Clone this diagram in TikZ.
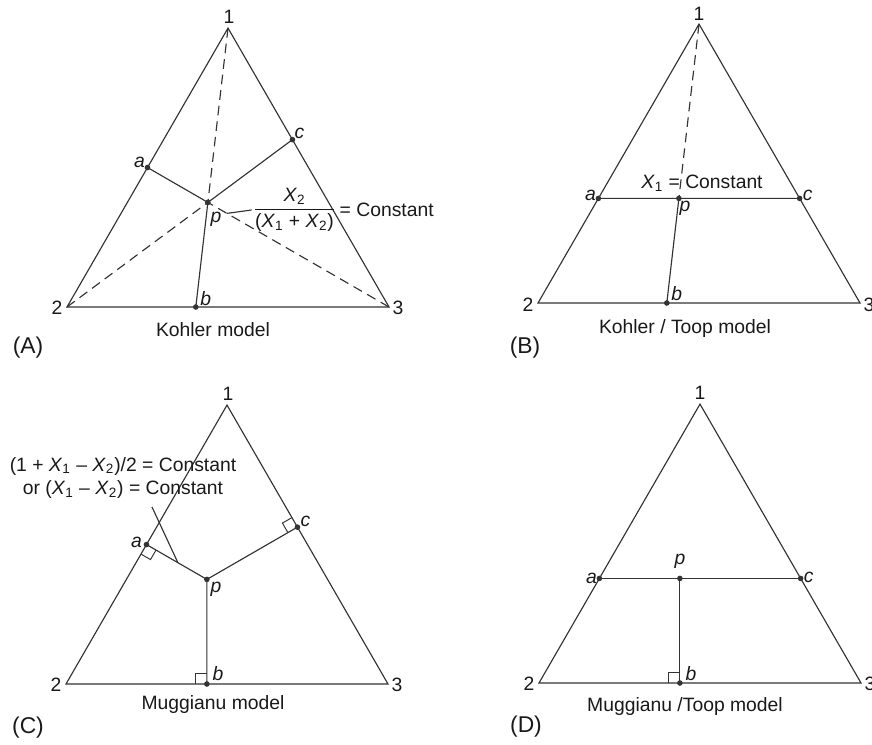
\documentclass[tikz,border=0pt]{standalone}
\usepackage{amsmath}
\usepackage{fontspec}
\setmainfont{Liberation Sans}
\usetikzlibrary{calc,positioning}

\newcommand{\Xs}[1]{\textit{X}\textsubscript{#1}}
% right-angle mark: foot, point along side, point towards p
\newcommand{\rangmark}[3]{%
  \coordinate (rmu) at ($(#1)!0.22cm!(#2)$);
  \coordinate (rmv) at ($(#1)!0.22cm!(#3)$);
  \draw[line width=0.55pt] (rmu) -- ($(rmu)+(rmv)-(#1)$) -- (rmv);}

\begin{document}
\begin{tikzpicture}[x=0.02cm, y=0.02cm, line width=0.65pt, black!80,
    every node/.style={font=\fontsize{11}{13.6}\selectfont, text=black!90, inner sep=0pt},
    var/.style={font=\fontsize{11}{13.6}\selectfont\itshape},
    dashln/.style={dash pattern=on 5.5pt off 3.4pt},
    panel/.style={font=\fontsize{13}{15}\selectfont}]
  \useasboundingbox (0,0) rectangle (872,744);

  % (A) Kohler model
  \begin{scope}[shift={(67,437)}]
    \coordinate (A2) at (0,0);
    \coordinate (A3) at (322,0);
    \coordinate (A1) at (161,278.9);
    \coordinate (Ap) at (barycentric cs:A1=0.375,A2=0.375,A3=0.25);
    \coordinate (Aa) at (intersection of A3--Ap and A1--A2);
    \coordinate (Ab) at (intersection of A1--Ap and A2--A3);
    \coordinate (Ac) at (intersection of A2--Ap and A1--A3);
    \draw (A1) -- (A2) -- (A3) -- cycle;
    \draw[dashln] (A1) -- (Ap) (A2) -- (Ap) (A3) -- (Ap);
    \draw (Aa) -- (Ap) -- (Ac) (Ap) -- (Ab);
    \foreach \q in {Aa,Ab,Ac,Ap} \fill (\q) circle (1.6pt);
    \node (A1l) at ($(A1)+(1,11)$) {1};
    \node (A2l) at ($(A2)+(-10,-1)$) {2};
    \node (A3l) at ($(A3)+(9,-1)$) {3};
    \node[var] (Aal) at ($(Aa)+(-8,5)$) {a};
    \node[var] (Acl) at ($(Ac)+(7,6)$) {c};
    \node[var] (Apl) at ($(Ap)+(8,-17)$) {p};
    \node[var] (Abl) at ($(Ab)+(10,8.5)$) {b};
    \node[inner sep=0.5pt] (Afr) at (227.5,97) {$\dfrac{\mbox{\Xs{2}}}{\mbox{(\Xs{1} + \Xs{2})}}$};
    \node[right=1pt of Afr] (Acst) {= Constant};
    \coordinate (Alead) at ($(Ap)!0.105!(A3)$);
    \draw (Afr.west) -- (Alead);
    \node (Attl) at (146,-23) {Kohler model};
    \node[panel] (Apnl) at (-39,-41) {(A)};
  \end{scope}

  % (B) Kohler / Toop model
  \begin{scope}[shift={(538,441)}]
    \coordinate (B2) at (0,0);
    \coordinate (B3) at (322,0);
    \coordinate (B1) at (161,278.9);
    \coordinate (Bp) at (barycentric cs:B1=0.375,B2=0.375,B3=0.25);
    \coordinate (Ba) at (barycentric cs:B1=0.375,B2=0.625);
    \coordinate (Bc) at (barycentric cs:B1=0.375,B3=0.625);
    \coordinate (Bb) at (intersection of B1--Bp and B2--B3);
    \draw (B1) -- (B2) -- (B3) -- cycle;
    \draw[dashln] (B1) -- (Bp);
    \draw (Ba) -- (Bc) (Bp) -- (Bb);
    \foreach \q in {Ba,Bb,Bc,Bp} \fill (\q) circle (1.6pt);
    \node (B1l) at ($(B1)+(0,10)$) {1};
    \node (B2l) at ($(B2)+(-10,-2)$) {2};
    \node (B3l) at ($(B3)+(9,-2)$) {3};
    \node[var] (Bal) at ($(Ba)+(-8,3)$) {a};
    \node[var] (Bcl) at ($(Bc)+(8,3)$) {c};
    \node[var] (Bpl) at ($(Bp)+(6,-10)$) {p};
    \node[var] (Bbl) at ($(Bb)+(10,9)$) {b};
    \node (Btxt) at (164,120) {\Xs{1} = Constant};
    \node (Bttl) at (147,-26) {Kohler / Toop model};
    \node[panel] (Bpnl) at (-13,-45) {(B)};
  \end{scope}

  % (C) Muggianu model
  \begin{scope}[shift={(66,60)}]
    \coordinate (C2) at (0,0);
    \coordinate (C3) at (322,0);
    \coordinate (C1) at (161,278.9);
    \coordinate (Cp) at (barycentric cs:C1=0.375,C2=0.375,C3=0.25);
    \coordinate (Ca) at ($(C1)!(Cp)!(C2)$);
    \coordinate (Cb) at ($(C2)!(Cp)!(C3)$);
    \coordinate (Cc) at ($(C1)!(Cp)!(C3)$);
    \draw (C1) -- (C2) -- (C3) -- cycle;
    \draw (Ca) -- (Cp) -- (Cc) (Cp) -- (Cb);
    \rangmark{Ca}{C2}{Cp}
    \rangmark{Cb}{C2}{Cp}
    \rangmark{Cc}{C1}{Cp}
    \foreach \q in {Ca,Cb,Cc,Cp} \fill (\q) circle (1.6pt);
    \node (C1l) at ($(C1)+(1,11)$) {1};
    \node (C2l) at ($(C2)+(-10,-1)$) {2};
    \node (C3l) at ($(C3)+(9,-1)$) {3};
    \node[var] (Cal) at ($(Ca)+(-10,2)$) {a};
    \node[var] (Ccl) at ($(Cc)+(8,6)$) {c};
    \node[var] (Cpl) at ($(Cp)+(9,-10)$) {p};
    \node[var] (Cbl) at ($(Cb)+(11,10)$) {b};
    \node[align=center] (Ctxt) at (57,206) {(1 + \Xs{1} – \Xs{2})/2 = Constant\\or (\Xs{1} – \Xs{2}) = Constant};
    \coordinate (Clead) at (86,177);
    \draw (Clead) -- ($(Ca)!0.52!(Cp)$);
    \node (Cttl) at (147,-21) {Muggianu model};
    \node[panel] (Cpnl) at (-38,-44) {(C)};
  \end{scope}

  % (D) Muggianu / Toop model
  \begin{scope}[shift={(539,61)}]
    \coordinate (D2) at (0,0);
    \coordinate (D3) at (322,0);
    \coordinate (D1) at (161,278.9);
    \coordinate (Dp) at (barycentric cs:D1=0.375,D2=0.375,D3=0.25);
    \coordinate (Da) at (barycentric cs:D1=0.375,D2=0.625);
    \coordinate (Dc) at (barycentric cs:D1=0.375,D3=0.625);
    \coordinate (Db) at ($(D2)!(Dp)!(D3)$);
    \draw (D1) -- (D2) -- (D3) -- cycle;
    \draw (Da) -- (Dc) (Dp) -- (Db);
    \rangmark{Db}{D2}{Dp}
    \foreach \q in {Da,Db,Dc,Dp} \fill (\q) circle (1.6pt);
    \node (D1l) at ($(D1)+(0,11)$) {1};
    \node (D2l) at ($(D2)+(-10,-1)$) {2};
    \node (D3l) at ($(D3)+(9,-1)$) {3};
    \node[var] (Dal) at ($(Da)+(-8,0.5)$) {a};
    \node[var] (Dcl) at ($(Dc)+(8,1)$) {c};
    \node[var] (Dpl) at ($(Dp)+(0,17.5)$) {p};
    \node[var] (Dbl) at ($(Db)+(11,9)$) {b};
    \node (Dttl) at (146,-24) {Muggianu /Toop model};
    \node[panel] (Dpnl) at (-13,-44) {(D)};
  \end{scope}
\end{tikzpicture}
\end{document}
